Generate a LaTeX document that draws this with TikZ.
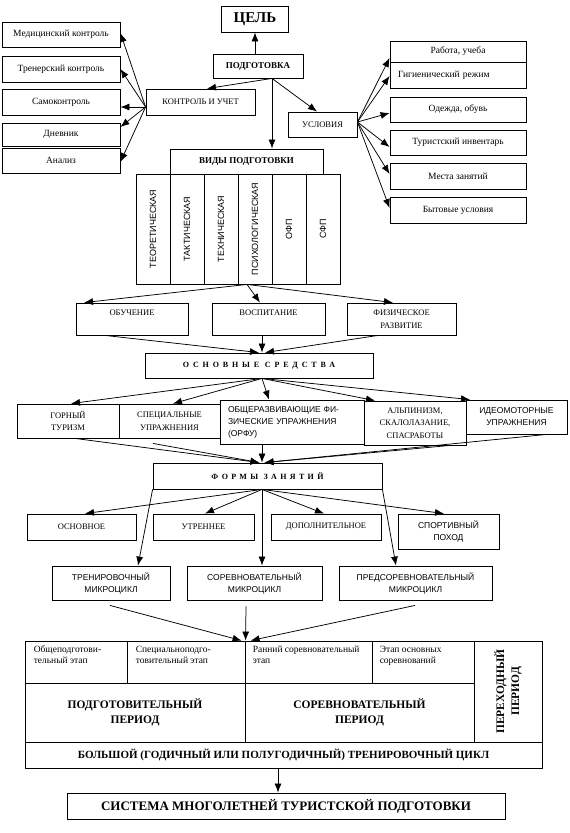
\documentclass[tikz,border=0pt]{standalone}
\usepackage{fontspec}
\setmainfont{Liberation Serif}
\setsansfont{Liberation Sans}
\usetikzlibrary{arrows.meta}
\begin{document}
\begin{tikzpicture}[x=1pt,y=-1pt,
  bx/.style={draw,line width=0.85pt,inner sep=1pt,align=center},
  sm/.style={font=\fontsize{9.5}{11}\selectfont},
  cp/.style={font=\fontsize{8.5}{12.5}\selectfont},
  cps/.style={font=\sffamily\fontsize{8.5}{12}\selectfont},
  colst/.style={bx,rotate=90,minimum width=110pt,minimum height=34pt,font=\sffamily\fontsize{9}{11}\selectfont},
  stg/.style={inner sep=0pt,align=left,font=\fontsize{9.5}{11}\selectfont},
  bigb/.style={font=\bfseries\fontsize{11.5}{15}\selectfont},
  spc/.style={font=\bfseries\fontsize{8}{9}\selectfont\addfontfeature{LetterSpace=48}},
  spcf/.style={font=\bfseries\fontsize{8}{9}\selectfont\addfontfeature{LetterSpace=42}},
  arr/.style={line width=0.75pt,-{Latex[length=9pt,width=7pt]}}]
\useasboundingbox (0,0) rectangle (570,833);

% top
\node[bx,minimum width=67pt,minimum height=26pt,font=\bfseries\fontsize{15}{17}\selectfont] (cel) at (255,19) {ЦЕЛЬ};
\node[bx,minimum width=90pt,minimum height=24pt,font=\bfseries\fontsize{9}{11}\selectfont] (podg) at (258,66) {ПОДГОТОВКА};
\node[bx,cp,minimum width=109pt,minimum height=26pt] (kontr) at (200.5,102) {КОНТРОЛЬ И УЧЕТ};
\node[bx,cp,minimum width=69pt,minimum height=25pt] (usl) at (322.5,124.5) {УСЛОВИЯ};

% left boxes
\node[bx,sm,minimum width=118pt,minimum height=25pt] (med) at (61,34.5) {Медицинский контроль};
\node[bx,sm,minimum width=118pt,minimum height=26pt] (tren) at (61,69) {Тренерский контроль};
\node[bx,sm,minimum width=118pt,minimum height=26pt] (samo) at (61,102) {Самоконтроль};
\node[bx,sm,minimum width=118pt,minimum height=23pt] (dnev) at (61,134.5) {Дневник};
\node[bx,sm,minimum width=118pt,minimum height=25pt] (anal) at (61,160.5) {Анализ};

% right boxes
\node[bx,sm,minimum width=136pt,minimum height=21pt] (rab) at (458,51.5) {Работа, учеба};
\node[bx,sm,minimum height=26pt,text width=120pt,inner xsep=8pt,align=left] (gig) at (458,75) {Гигиенический режим};
\node[bx,sm,minimum width=136pt,minimum height=25pt] (od) at (458,109.5) {Одежда, обувь};
\node[bx,sm,minimum width=136pt,minimum height=25pt] (tur) at (458,142.5) {Туристский инвентарь};
\node[bx,sm,minimum width=136pt,minimum height=26pt] (mest) at (458,176) {Места занятий};
\node[bx,sm,minimum width=136pt,minimum height=26pt] (byt) at (458,210) {Бытовые условия};

% kinds
\node[bx,minimum width=153pt,minimum height=25pt,font=\bfseries\fontsize{9}{11}\selectfont] (vidy) at (246.5,161.5) {ВИДЫ ПОДГОТОВКИ};
\node[colst] (c1) at (153,229) {ТЕОРЕТИЧЕСКАЯ};
\node[colst] (c2) at (187,229) {ТАКТИЧЕСКАЯ};
\node[colst] (c3) at (221,229) {ТЕХНИЧЕСКАЯ};
\node[colst] (c4) at (255,229) {ПСИХОЛОГИЧЕСКАЯ};
\node[colst] (c5) at (289,229) {ОФП};
\node[colst] (c6) at (323,229) {СФП};

% aims
\node[bx,cp,minimum width=112pt,minimum height=32pt] (obuch) at (132,319) {ОБУЧЕНИЕ\\~};
\node[bx,cp,minimum width=113pt,minimum height=32pt] (vosp) at (268.5,319) {ВОСПИТАНИЕ\\~};
\node[bx,cp,minimum width=109pt,minimum height=32pt] (fiz) at (401.5,319) {ФИЗИЧЕСКОЕ\\РАЗВИТИЕ};

\node[bx,spc,minimum width=228pt,minimum height=25pt] (osn) at (259,365.5) {ОСНОВНЫЕ СРЕДСТВА};

% means
\node[bx,cp,minimum width=102pt,minimum height=34pt] (gor) at (68,421) {ГОРНЫЙ\\ТУРИЗМ};
\node[bx,cp,minimum width=101pt,minimum height=34pt] (spec) at (169.5,421) {СПЕЦИАЛЬНЫЕ\\УПРАЖНЕНИЯ};
\node[bx,cps,minimum height=44pt,text width=128pt,inner xsep=8pt,align=left] (obsh) at (292,422) {ОБЩЕРАЗВИВАЮЩИЕ ФИ-\\ЗИЧЕСКИЕ УПРАЖНЕНИЯ\\(ОРФУ)};
\node[bx,cp,minimum width=102pt,minimum height=44pt] (alp) at (415,423) {АЛЬПИНИЗМ,\\СКАЛОЛАЗАНИЕ,\\СПАСРАБОТЫ};
\node[bx,cps,minimum width=101pt,minimum height=34pt] (ideo) at (516.5,417) {ИДЕОМОТОРНЫЕ\\УПРАЖНЕНИЯ};

\node[bx,spcf,minimum width=229pt,minimum height=26pt] (form) at (267.5,476) {ФОРМЫ ЗАНЯТИЙ};

% forms
\node[bx,cp,minimum width=109pt,minimum height=26pt] (osnv) at (81.5,527) {ОСНОВНОЕ};
\node[bx,cp,minimum width=101pt,minimum height=26pt] (utr) at (203.5,527) {УТРЕННЕЕ};
\node[bx,cp,minimum width=110pt,minimum height=26pt] (dop) at (326,527) {ДОПОЛНИТЕЛЬНОЕ};
\node[bx,cps,minimum width=101pt,minimum height=35pt] (sport) at (448.5,531.5) {СПОРТИВНЫЙ\\ПОХОД};

\node[bx,cps,minimum width=118pt,minimum height=34pt] (trmc) at (111,583) {ТРЕНИРОВОЧНЫЙ\\МИКРОЦИКЛ};
\node[bx,cps,minimum width=135pt,minimum height=34pt] (sormc) at (254.5,583) {СОРЕВНОВАТЕЛЬНЫЙ\\МИКРОЦИКЛ};
\node[bx,cps,minimum width=153pt,minimum height=34pt] (prmc) at (415.5,583) {ПРЕДСОРЕВНОВАТЕЛЬНЫЙ\\МИКРОЦИКЛ};

% table
\node[bx,minimum width=102pt,minimum height=42pt] (s1) at (76,662) {};
\node[bx,minimum width=118pt,minimum height=42pt] (s2) at (186,662) {};
\node[bx,minimum width=127pt,minimum height=42pt] (s3) at (308.5,662) {};
\node[bx,minimum width=102pt,minimum height=42pt] (s4) at (423,662) {};
\node[stg,anchor=north west] (s1t) at ([xshift=9pt,yshift=-5pt]s1.north west) {Общеподготови-\\тельный этап};
\node[stg,anchor=north west] (s2t) at ([xshift=9pt,yshift=-5pt]s2.north west) {Специальноподго-\\товительный этап};
\node[stg,anchor=north west] (s3t) at ([xshift=8pt,yshift=-5pt]s3.north west) {Ранний соревновательный\\этап};
\node[stg,anchor=north west] (s4t) at ([xshift=8pt,yshift=-5pt]s4.north west) {Этап основных\\соревнований};
\node[bx,bigb,minimum width=220pt,minimum height=59pt] (p1) at (135,712.5) {ПОДГОТОВИТЕЛЬНЫЙ\\ПЕРИОД};
\node[bx,bigb,minimum width=229pt,minimum height=59pt] (p2) at (359.5,712.5) {СОРЕВНОВАТЕЛЬНЫЙ\\ПЕРИОД};
\node[bx,bigb,rotate=90,minimum width=101pt,minimum height=68pt] (per) at (508,691.5) {ПЕРЕХОДНЫЙ\\ПЕРИОД};
\node[bx,minimum width=517pt,minimum height=26pt,font=\bfseries\fontsize{11}{13}\selectfont] (cyc) at (283.5,755) {БОЛЬШОЙ (ГОДИЧНЫЙ ИЛИ ПОЛУГОДИЧНЫЙ) ТРЕНИРОВОЧНЫЙ ЦИКЛ};
\node[bx,minimum width=438pt,minimum height=26pt,font=\bfseries\fontsize{13}{15}\selectfont] (sys) at (286,806) {СИСТЕМА МНОГОЛЕТНЕЙ ТУРИСТСКОЙ ПОДГОТОВКИ};

% arrows top
\draw[arr] ([xshift=-3pt]podg.north) -- (cel.south);
\coordinate (pb) at ([xshift=14pt]podg.south);
\draw[arr] (pb) -- ([xshift=6.5pt]kontr.north);
\draw[arr] (pb) -- ([xshift=25.5pt]vidy.north);
\draw[arr] (pb) -- ([xshift=-5.5pt]usl.north);

\coordinate (kb) at ([yshift=-5pt]kontr.west);
\draw[arr] (kb) -- ([yshift=1.5pt]med.east);
\draw[arr] (kb) -- (tren.east);
\draw[arr] (kb) -- ([yshift=-5pt]samo.east);
\draw[arr] (kb) -- ([yshift=7.5pt]dnev.east);
\draw[arr] (kb) -- ([yshift=-1.5pt]anal.east);

\coordinate (ub) at ([yshift=2.5pt]usl.east);
\draw[arr] (ub) -- ([yshift=-6.5pt]rab.west);
\draw[arr] (ub) -- ([yshift=-1pt]gig.west);
\draw[arr] (ub) -- ([yshift=-3.5pt]od.west);
\draw[arr] (ub) -- ([yshift=-4.5pt]tur.west);
\draw[arr] (ub) -- ([yshift=2pt]mest.west);
\draw[arr] (ub) -- ([yshift=2pt]byt.west);

% kinds to aims
\coordinate (vb) at ([xshift=-8pt]c4.west);
\draw[arr] (vb) -- ([xshift=-48pt]obuch.north);
\draw[arr] (vb) -- ([xshift=-8.5pt]vosp.north);
\draw[arr] (vb) -- ([xshift=-8.5pt]fiz.north);

\draw[arr] ([xshift=-27pt]obuch.south) -- (osn.north);
\draw[arr] ([xshift=-6.5pt]vosp.south) -- ([xshift=3pt]osn.north);
\draw[arr] ([xshift=-23.5pt]fiz.south) -- ([xshift=6pt]osn.north);

\coordinate (ob) at ([xshift=3pt]osn.south);
\draw[arr] (ob) -- ([xshift=3pt]gor.north);
\draw[arr] (ob) -- ([xshift=3.5pt]spec.north);
\draw[arr] (ob) -- ([xshift=-23pt]obsh.north);
\draw[arr] (ob) -- ([xshift=-40pt]alp.north);
\draw[arr] (ob) -- ([xshift=-46.5pt]ideo.north);

\draw[arr] ([xshift=7pt]gor.south) -- ([xshift=-8pt]form.north);
\draw[arr] ([xshift=-16.5pt,yshift=-5pt]spec.south) -- ([xshift=-8pt]form.north);
\draw[arr] ([xshift=-30pt]obsh.south) -- ([xshift=-5.5pt]form.north);
\draw[arr] ([xshift=35pt]alp.south) -- ([xshift=-3pt]form.north);
\draw[arr] ([xshift=30pt]ideo.south) -- ([xshift=-3pt]form.north);

\coordinate (fb) at ([xshift=-5.5pt]form.south);
\draw[arr] (fb) -- ([xshift=3.5pt]osnv.north);
\draw[arr] (fb) -- ([xshift=1.5pt]utr.north);
\draw[arr] (fb) -- ([xshift=-2pt]dop.north);
\draw[arr] (fb) -- ([xshift=-4.5pt]sport.north);
\draw[arr] (form.south west) -- ([xshift=27pt]trmc.north);
\draw[arr] (fb) -- ([xshift=7.5pt]sormc.north);
\draw[arr] (form.south east) -- ([xshift=-19.5pt]prmc.north);

\draw[arr] ([xshift=-1pt,yshift=-5pt]trmc.south) -- ([xshift=-3pt]s3.north west);
\draw[arr] ([xshift=-8.5pt,yshift=-6pt]sormc.south) -- ([xshift=1pt]s3.north west);
\draw[arr] ([xshift=-0.5pt,yshift=-5pt]prmc.south) -- ([xshift=6pt]s3.north west);

\draw[arr] ([xshift=-5.5pt]cyc.south) -- ([xshift=-8pt]sys.north);
\end{tikzpicture}
\end{document}
